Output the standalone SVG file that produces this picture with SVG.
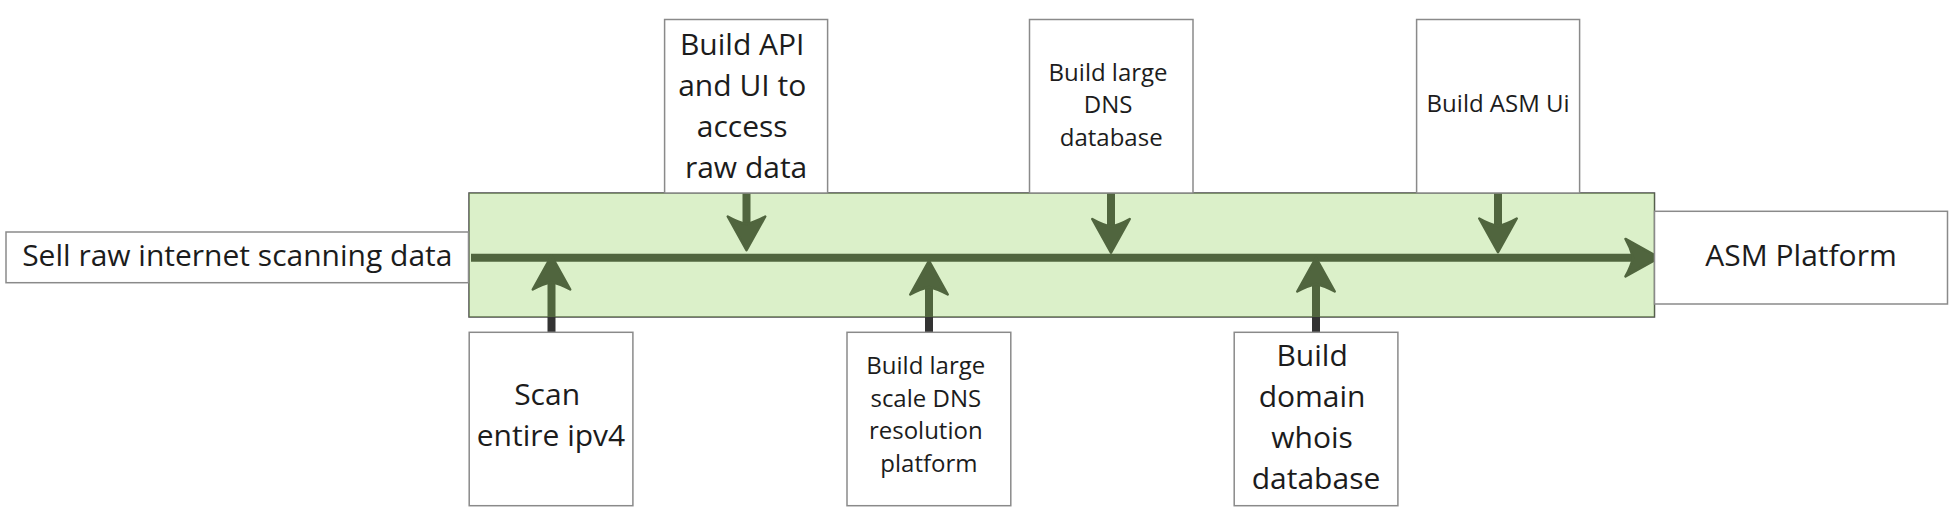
<svg xmlns="http://www.w3.org/2000/svg" width="1952" height="512" viewBox="0 0 1952 512">
  <style>
    .box { fill: #ffffff; stroke: #8a8a8a; stroke-width: 1.5; }
    .lane { fill: #ffffff; stroke: #4a4a4a; stroke-width: 1.5; }
    .tint { fill: #8ed056; fill-opacity: 0.32; stroke: none; }
    .t { font-family: "Open Sans", "Liberation Sans", sans-serif; fill: #1c1c1c; text-anchor: middle; }
    .L { font-size: 30px; }
    .S { font-size: 24px; }
    .conn { fill: none; stroke: #333333; stroke-width: 8; stroke-linecap: butt; marker-end: url(#ah); }
  </style>
  <defs>
    <marker id="ah" markerUnits="userSpaceOnUse" markerWidth="50" markerHeight="50" viewBox="-10 -20 40 40" refX="0" refY="0" orient="auto" overflow="visible">
      <path d="M21,0 L-6,-15 Q-1.5,-7 0,0 Q-1.5,7 -6,15 Z" fill="#333333" stroke="#333333" stroke-width="2" stroke-linejoin="round"/>
    </marker>
  </defs>

  <g id="lane-base">
    <rect class="lane" x="469" y="193" width="1185.5" height="124"/>
  </g>

  <g id="connectors">
    <path class="conn" d="M471,257.7 H1633"/>
    <path class="conn" d="M746.5,193 V224"/>
    <path class="conn" d="M1111,193 V226.5"/>
    <path class="conn" d="M1498,193 V226"/>
    <path class="conn" d="M551.5,332.5 V282"/>
    <path class="conn" d="M929,332.5 V287"/>
    <path class="conn" d="M1316,332.5 V284"/>
  </g>

  <g id="lane">
    <rect class="tint" x="469" y="193" width="1185.5" height="124"/>
  </g>

  <g id="sell">
    <rect class="box" x="6" y="232" width="462.5" height="50.7"/>
    <text class="t L" x="237.3" y="265.7">Sell raw internet scanning data</text>
  </g>

  <g id="asm-platform">
    <rect class="box" x="1654.5" y="211.3" width="293" height="92.7"/>
    <text class="t L" x="1801" y="265.8">ASM Platform</text>
  </g>

  <g id="build-api">
    <rect class="box" x="664.6" y="19.5" width="163" height="173.5"/>
    <text class="t L" x="746.1">
      <tspan x="746.1" y="55.4">Build API</tspan>
      <tspan x="746.1" y="96.2">and UI to</tspan>
      <tspan x="746.1" y="137.1">access</tspan>
      <tspan x="746.1" y="177.9">raw data</tspan>
    </text>
  </g>

  <g id="build-dns-db">
    <rect class="box" x="1029.5" y="19.5" width="163.5" height="173.5"/>
    <text class="t S" x="1111.2">
      <tspan x="1111.2" y="80.5">Build large</tspan>
      <tspan x="1111.2" y="113.2">DNS</tspan>
      <tspan x="1111.2" y="145.9">database</tspan>
    </text>
  </g>

  <g id="build-asm-ui">
    <rect class="box" x="1416.6" y="19.5" width="163" height="173.5"/>
    <text class="t S" x="1498.1" y="112">Build ASM Ui</text>
  </g>

  <g id="scan-ipv4">
    <rect class="box" x="469.2" y="332.3" width="163.7" height="173.4"/>
    <text class="t L" x="551">
      <tspan x="551" y="405.2">Scan</tspan>
      <tspan x="551" y="446.1">entire ipv4</tspan>
    </text>
  </g>

  <g id="build-dns-res">
    <rect class="box" x="847" y="332.3" width="163.8" height="173.4"/>
    <text class="t S" x="928.9">
      <tspan x="928.9" y="373.8">Build large</tspan>
      <tspan x="928.9" y="406.5">scale DNS</tspan>
      <tspan x="928.9" y="439.2">resolution</tspan>
      <tspan x="928.9" y="471.9">platform</tspan>
    </text>
  </g>

  <g id="build-whois">
    <rect class="box" x="1234.2" y="332.3" width="163.7" height="173.4"/>
    <text class="t L" x="1316">
      <tspan x="1316" y="366.4">Build</tspan>
      <tspan x="1316" y="407.2">domain</tspan>
      <tspan x="1316" y="448.1">whois</tspan>
      <tspan x="1316" y="488.9">database</tspan>
    </text>
  </g>
</svg>
